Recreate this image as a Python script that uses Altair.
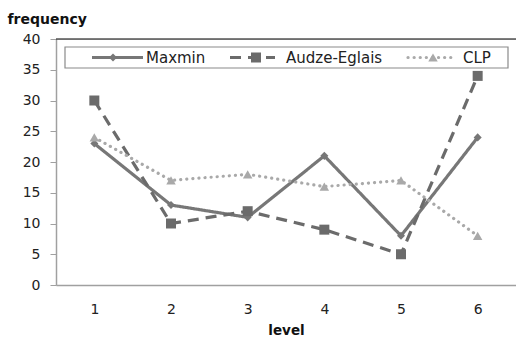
import altair as alt
import pandas as pd

levels = [1, 2, 3, 4, 5, 6]
series_names = ["Maxmin", "Audze-Eglais", "CLP"]
maxmin = [23, 13, 11, 21, 8, 24]
audze = [30, 10, 12, 9, 5, 34]
clp = [24, 17, 18, 16, 17, 8]
y_ticks = [0, 5, 10, 15, 20, 25, 30, 35, 40]

values = {"Maxmin": maxmin, "Audze-Eglais": audze, "CLP": clp}

styles = {
    "Maxmin": dict(color="#777777", dash=[1, 0], width=3.2, shape="diamond", size=65, cap="butt",
                   lx=36, lx2=87, mx=57, tx=90),
    "Audze-Eglais": dict(color="#6b6b6b", dash=[11, 7], width=3.2, shape="square", size=100, cap="butt",
                         lx=174, lx2=219, mx=200, tx=230),
    "CLP": dict(color="#a9a9a9", dash=[0.1, 6], width=3.2, shape="triangle-up", size=90, cap="round",
                lx=352, lx2=398, mx=377, tx=407),
}

FONT = "DejaVu Sans"
xscale = alt.Scale(domain=[0.5, 6.5], nice=False, zero=False)
yscale = alt.Scale(domain=[0, 40], nice=False)

xaxis = alt.Axis(values=levels, ticks=False, grid=False, domainColor="#a0a0a0", domainWidth=1.5,
                 labelFont=FONT, labelFontSize=14, labelColor="#222222", labelPadding=17,
                 title="level", titleFont=FONT, titleFontSize=13.5, titleFontWeight="bold",
                 titlePadding=7, titleColor="#111111", format="d")
yaxis = alt.Axis(values=y_ticks, ticks=True, tickSize=6, tickColor="#a0a0a0", grid=False,
                 domainColor="#a0a0a0", domainWidth=1.5, labelFont=FONT, labelFontSize=14,
                 labelColor="#222222", labelPadding=10,
                 title="frequency", titleFont=FONT, titleFontSize=14, titleFontWeight="bold",
                 titleAngle=0, titleAlign="left", titleBaseline="middle", titleX=-49, titleY=-20,
                 titleColor="#111111")

layers = []
# top border line at 40
top = alt.Chart(pd.DataFrame({"y": [40]})).mark_rule(color="#000000", strokeWidth=1.2).encode(
    y=alt.Y("y:Q", scale=yscale, axis=yaxis)
)
layers.append(top)

for name in series_names:
    st = styles[name]
    df = pd.DataFrame({"level": levels, "value": values[name]})
    base = alt.Chart(df).encode(
        x=alt.X("level:Q", scale=xscale, axis=xaxis),
        y=alt.Y("value:Q", scale=yscale, axis=yaxis),
    )
    layers.append(base.mark_line(color=st["color"], strokeDash=st["dash"], strokeWidth=st["width"],
                                 strokeCap=st["cap"]))
    layers.append(base.mark_point(shape=st["shape"], size=st["size"], filled=True, color=st["color"],
                                  opacity=1))

# legend box
legend_box = alt.Chart(pd.DataFrame({"a": [0]})).mark_rect(fill="white", stroke="#8a8a8a",
                                                          strokeWidth=1.2).encode(
    x=alt.value(9), x2=alt.value(452), y=alt.value(8), y2=alt.value(29)
)
layers.append(legend_box)
for name in series_names:
    st = styles[name]
    d = pd.DataFrame({"s": [name]})
    layers.append(alt.Chart(d).mark_rule(color=st["color"], strokeDash=st["dash"], strokeWidth=st["width"],
                                         strokeCap=st["cap"]).encode(
        x=alt.value(st["lx"]), x2=alt.value(st["lx2"]), y=alt.value(18.5)))
    layers.append(alt.Chart(d).mark_point(shape=st["shape"], size=st["size"], filled=True,
                                          color=st["color"], opacity=1).encode(
        x=alt.value(st["mx"]), y=alt.value(18.5)))
    layers.append(alt.Chart(d).mark_text(align="left", baseline="middle", font=FONT, fontSize=15,
                                         color="#222222").encode(
        x=alt.value(st["tx"]), y=alt.value(18.5), text="s:N"))

chart = alt.layer(*layers).properties(
    width=460, height=246,
    padding={"left": 56, "top": 39, "right": 0, "bottom": 54},
    autosize=alt.AutoSizeParams(type="none"),
).configure_view(stroke=None).configure(background="white")

chart.save("out.html", embed_options={"renderer": "svg", "actions": False})
